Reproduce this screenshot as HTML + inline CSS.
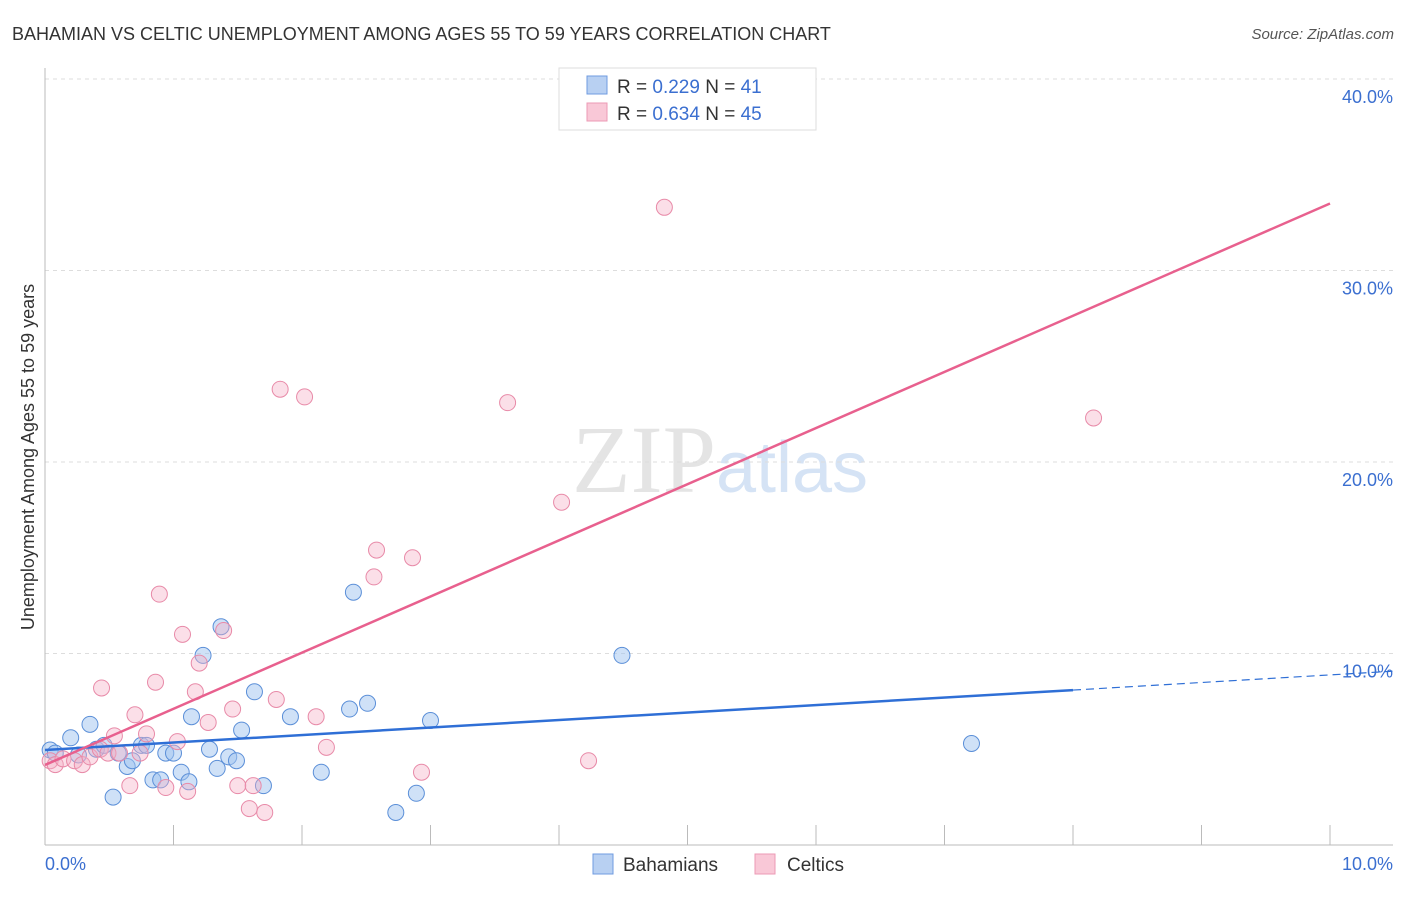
<!DOCTYPE html>
<html><head><meta charset="utf-8"><style>
body{margin:0;background:#fff;font-family:"Liberation Sans",sans-serif}
</style></head><body>
<svg width="1406" height="892" xmlns="http://www.w3.org/2000/svg" font-family="Liberation Sans, sans-serif">
<text x="12" y="40" font-size="18" fill="#333">BAHAMIAN VS CELTIC UNEMPLOYMENT AMONG AGES 55 TO 59 YEARS CORRELATION CHART</text>
<text x="1394" y="39" font-size="15" fill="#555" text-anchor="end" font-style="italic">Source: ZipAtlas.com</text>
<text x="720" y="492" font-size="96" text-anchor="middle" fill="#e4e4e4" font-family="Liberation Serif, serif">ZIP<tspan fill="#d5e3f5" font-family="Liberation Sans, sans-serif" font-size="72">atlas</tspan></text>
<g id="grid"></g>
<line x1="45" y1="68" x2="45" y2="845" stroke="#bbb"/>
<line x1="45" y1="845" x2="1393" y2="845" stroke="#bbb"/>
<text transform="translate(34,457) rotate(-90)" font-size="18" fill="#333" text-anchor="middle">Unemployment Among Ages 55 to 59 years</text>
<text x="45" y="870" font-size="18" fill="#3b6fd0">0.0%</text>
<text x="1393" y="870" font-size="18" fill="#3b6fd0" text-anchor="end">10.0%</text>
<g id="pts"></g>
<g id="lines"></g>
<g>
<rect x="559" y="68" width="257" height="62" fill="#fff" stroke="#ddd"/>
<rect x="587" y="76" width="20" height="18" fill="#b8d0f2" stroke="#6f9be0"/>
<rect x="587" y="103" width="20" height="18" fill="#f9c8d7" stroke="#ec9ab4"/>
<text x="617" y="93" font-size="19" fill="#333">R = <tspan fill="#3b6fd0">0.229</tspan>   N =  <tspan fill="#3b6fd0">41</tspan></text>
<text x="617" y="120" font-size="19" fill="#333">R = <tspan fill="#3b6fd0">0.634</tspan>   N = <tspan fill="#3b6fd0">45</tspan></text>
</g>
<g>
<rect x="593" y="854" width="20" height="20" fill="#b8d0f2" stroke="#6f9be0"/>
<text x="623" y="871" font-size="19" fill="#333">Bahamians</text>
<rect x="755" y="854" width="20" height="20" fill="#f9c8d7" stroke="#ec9ab4"/>
<text x="787" y="871" font-size="19" fill="#333">Celtics</text>
</g>
</svg>
<script>
const yTicks=[10,20,30,40];
const yTickLabels=["10.0%","20.0%","30.0%","40.0%"];
const xTicks=[1,2,3,4,5,6,7,8,9,10];
const bahX=[0.04,0.08,0.2,0.35,0.26,0.4,0.53,0.46,0.57,0.64,0.68,0.75,0.79,0.84,0.9,0.94,1.0,1.06,1.12,1.14,1.23,1.28,1.34,1.37,1.43,1.49,1.53,1.63,1.7,1.91,2.15,2.37,2.4,2.51,2.73,2.89,3.0,4.49,7.21];
const bahY=[4.96,4.8,5.6,6.3,4.7,5.0,2.5,5.2,4.8,4.1,4.4,5.2,5.2,3.4,3.4,4.8,4.8,3.8,3.3,6.7,9.9,5.0,4.0,11.4,4.6,4.4,6.0,8.0,3.1,6.7,3.8,7.1,13.2,7.4,1.7,2.7,6.5,9.9,5.3];
const celX=[0.04,0.08,0.14,0.23,0.29,0.35,0.43,0.44,0.49,0.54,0.58,0.66,0.7,0.74,0.79,0.86,0.89,0.94,1.03,1.07,1.11,1.17,1.2,1.27,1.39,1.46,1.5,1.59,1.62,1.71,1.8,1.83,2.02,2.11,2.19,2.56,2.58,2.86,2.93,3.6,4.02,4.23,4.82,8.16];
const celY=[4.4,4.2,4.5,4.4,4.2,4.6,5.0,8.2,4.8,5.7,4.8,3.1,6.8,4.8,5.8,8.5,13.1,3.0,5.4,11.0,2.8,8.0,9.5,6.4,11.2,7.1,3.1,1.9,3.1,1.7,7.6,23.8,23.4,6.7,5.1,14.0,15.4,15.0,3.8,23.1,17.9,4.4,33.3,22.3];
const bahLine=[0,4.96,8.0,8.09,10.5,9.08];
const celLine=[0,4.18,10,33.5];
const X=v=>45+v*128.5, Y=v=>845-v*19.15;
const NS="http://www.w3.org/2000/svg";
function mk(t,a,p){const e=document.createElementNS(NS,t);for(const k in a)e.setAttribute(k,a[k]);p.appendChild(e);return e;}
const g=document.getElementById('grid');
yTicks.forEach((t,i)=>{
 const l=mk('line',{x1:45,x2:1393,y1:Y(t),y2:Y(t),stroke:'#ddd','stroke-dasharray':'4,4'},g);
 
 
 const tx=mk('text',{x:1393,y:Y(t)+24,'font-size':18,fill:'#3b6fd0','text-anchor':'end'},g);
 tx.textContent=yTickLabels[i];
 
 
});
xTicks.forEach(t=>{
 const l=mk('line',{x1:X(t),x2:X(t),y1:825,y2:845,stroke:'#bbb'},g);
 
 
});
const p=document.getElementById('pts');
bahX.forEach((x,i)=>{
 const c=mk('circle',{cx:X(x),cy:Y(bahY[i]),r:8,fill:'rgba(160,195,240,0.5)',stroke:'#5b8fd8','stroke-width':1},p);
 
 
});
celX.forEach((x,i)=>{
 const c=mk('circle',{cx:X(x),cy:Y(celY[i]),r:8,fill:'rgba(245,175,198,0.4)',stroke:'#e88aa8','stroke-width':1},p);
 
 
});
const L=document.getElementById('lines');
const b1=mk('line',{x1:X(bahLine[0]),y1:Y(bahLine[1]),x2:X(bahLine[2]),y2:Y(bahLine[3]),stroke:'#2f6fd6','stroke-width':2.5},L);


const b2=mk('line',{x1:X(bahLine[2]),y1:Y(bahLine[3]),x2:X(bahLine[4]),y2:Y(bahLine[5]),stroke:'#2f6fd6','stroke-width':1.2,'stroke-dasharray':'8,5'},L);


const c1=mk('line',{x1:X(celLine[0]),y1:Y(celLine[1]),x2:X(celLine[2]),y2:Y(celLine[3]),stroke:'#e8608e','stroke-width':2.5},L);


</script>
</body></html>
